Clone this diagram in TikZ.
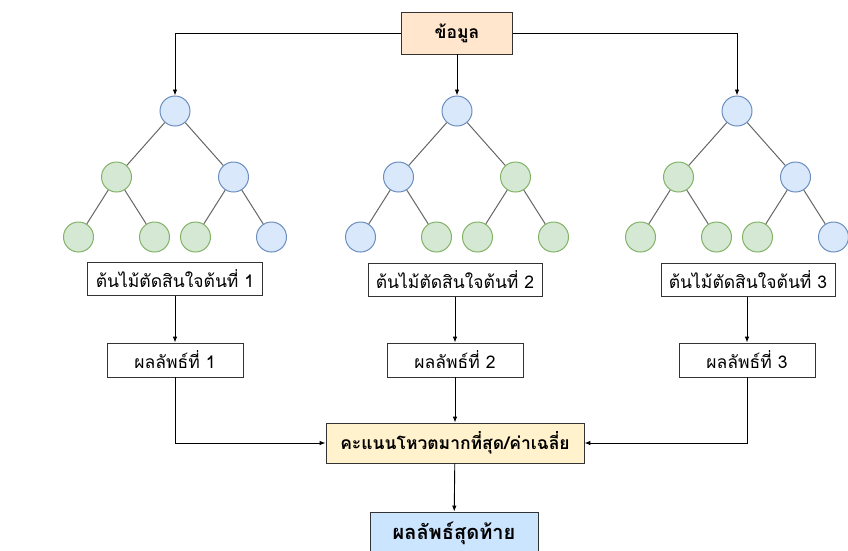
\documentclass[tikz,border=0pt]{standalone}
\usepackage{fontspec}
\newfontfamily\thaifont[Script=Thai]{Loma}
\usetikzlibrary{arrows.meta}
\definecolor{bluefill}{HTML}{DAE8FC}
\definecolor{blueline}{HTML}{6C8EBF}
\definecolor{greenfill}{HTML}{D5E8D4}
\definecolor{greenline}{HTML}{82B366}
\definecolor{datafill}{HTML}{FFE6CC}
\definecolor{votefill}{HTML}{FFF2CC}
\definecolor{finalfill}{HTML}{CCE5FF}
\tikzset{
  bnode/.style={circle, draw=blueline, fill=bluefill, line width=1pt, minimum size=30pt, inner sep=0pt},
  gnode/.style={circle, draw=greenline, fill=greenfill, line width=1pt, minimum size=30pt, inner sep=0pt},
  box/.style={draw=black!80, line width=0.8pt, font=\thaifont\fontsize{17.5}{20}\selectfont, inner sep=0pt},
  boldbox/.style={box, font=\thaifont\bfseries\fontsize{17.5}{20}\selectfont},
  arr/.style={-{Latex[length=6pt,width=4.5pt]}, line width=0.9pt},
}
\begin{document}
\begin{tikzpicture}[x=1pt,y=-1pt]
  \useasboundingbox (0,0) rectangle (848,550);
  \tikzstyle{level 1}=[sibling distance=117pt, level distance=66pt]
  \tikzstyle{level 2}=[sibling distance=76pt, level distance=60pt]
  \tikzstyle{edge from parent}=[draw=black!60, line width=1pt]

  \node[boldbox, fill=datafill, minimum width=111pt, minimum height=42pt] (data) at (457,33) {ข้อมูล};

  % tree 1
  \node[bnode] (r1) at (175,111) {}
   child {node[gnode] (r1a) {}
     child {node[gnode] (r1aa) {}}
     child {node[gnode] (r1ab) {}}
   }
   child {node[bnode] (r1b) {}
     child {node[gnode] (r1ba) {}}
     child {node[bnode] (r1bb) {}}
   };
  % tree 2
  \node[bnode] (r2) at (457,111) {}
   child {node[bnode] (r2a) {}
     child {node[bnode] (r2aa) {}}
     child {node[gnode] (r2ab) {}}
   }
   child {node[gnode] (r2b) {}
     child {node[gnode] (r2ba) {}}
     child {node[gnode] (r2bb) {}}
   };
  % tree 3
  \node[bnode] (r3) at (737,111) {}
   child {node[gnode] (r3a) {}
     child {node[gnode] (r3aa) {}}
     child {node[gnode] (r3ab) {}}
   }
   child {node[bnode] (r3b) {}
     child {node[gnode] (r3ba) {}}
     child {node[bnode] (r3bb) {}}
   };

  \node[box, fill=white, minimum width=175pt, minimum height=33pt] (tree1) at (175,279) {ต้นไม้ตัดสินใจต้นที่ 1};
  \node[box, fill=white, minimum width=174pt, minimum height=33pt] (tree2) at (455,280) {ต้นไม้ตัดสินใจต้นที่ 2};
  \node[box, fill=white, minimum width=174pt, minimum height=33pt] (tree3) at (748,280) {ต้นไม้ตัดสินใจต้นที่ 3};

  \node[box, fill=white, minimum width=136pt, minimum height=34pt] (res1) at (175,360) {ผลลัพธ์ที่ 1};
  \node[box, fill=white, minimum width=136pt, minimum height=34pt] (res2) at (455,360) {ผลลัพธ์ที่ 2};
  \node[box, fill=white, minimum width=136pt, minimum height=34pt] (res3) at (747,360) {ผลลัพธ์ที่ 3};

  \node[boldbox, fill=votefill, minimum width=258pt, minimum height=40pt] (vote) at (455,443) {คะแนนโหวตมากที่สุด/ค่าเฉลี่ย};
  \node[boldbox, font=\thaifont\bfseries\fontsize{20}{23}\selectfont, fill=finalfill, minimum width=168pt, minimum height=42pt] (final) at (454,533) {ผลลัพธ์สุดท้าย};

  \draw[arr] (data.west) -| (r1);
  \draw[arr] (data.south) -- (r2);
  \draw[arr] (data.east) -| (r3);

  \draw[arr] (tree1) -- (res1);
  \draw[arr] (tree2) -- (res2);
  \draw[arr] (tree3.south -| res3) -- (res3);

  \draw[arr] (res1) |- (vote.west);
  \draw[arr] (res2) -- (vote);
  \draw[arr] (res3) |- (vote.east);
  \draw[arr] (vote) -- (final);
\end{tikzpicture}
\end{document}
